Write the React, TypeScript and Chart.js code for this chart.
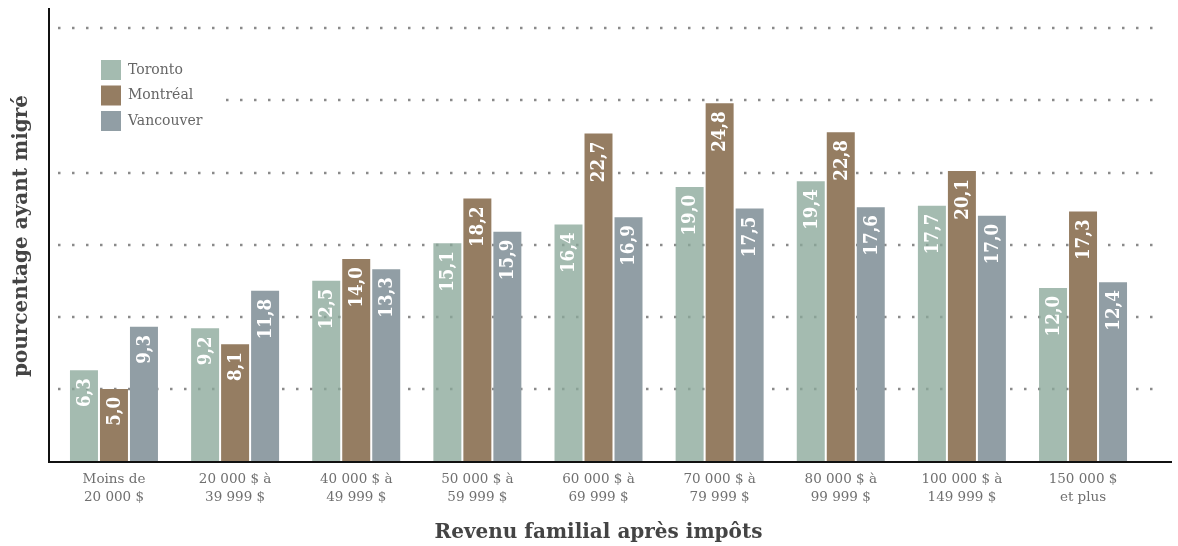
import React, { useEffect, useRef } from "react";
import { Chart, registerables } from "chart.js";

Chart.register(...registerables);

const categories: string[][] = [
  ["Moins de", "20 000 $"],
  ["20 000 $ à", "39 999 $"],
  ["40 000 $ à", "49 999 $"],
  ["50 000 $ à", "59 999 $"],
  ["60 000 $ à", "69 999 $"],
  ["70 000 $ à", "79 999 $"],
  ["80 000 $ à", "99 999 $"],
  ["100 000 $ à", "149 999 $"],
  ["150 000 $", "et plus"],
];
const seriesNames = ["Toronto", "Montréal", "Vancouver"];
const toronto = [6.3, 9.2, 12.5, 15.1, 16.4, 19.0, 19.4, 17.7, 12.0];
const montreal = [5.0, 8.1, 14.0, 18.2, 22.7, 24.8, 22.8, 20.1, 17.3];
const vancouver = [9.3, 11.8, 13.3, 15.9, 16.9, 17.5, 17.6, 17.0, 12.4];
const gridValues = [5, 10, 15, 20, 25, 30];
const yTitle = "pourcentage ayant migré";
const xTitle = "Revenu familial après impôts";

const barColors = ["rgba(138,168,154,0.78)", "#957d62", "#919ea5"];
const legendColors = ["#a4bbb0", "#957d62", "#919ea5"];
const SERIF = "'DejaVu Serif', serif";

export default function App() {
  const ref = useRef<HTMLCanvasElement | null>(null);

  useEffect(() => {
    const canvas = ref.current!;
    const gridPlugin = {
      id: "dottedGrid",
      beforeDatasetsDraw(chart: any) {
        const ctx = chart.ctx;
        const y = chart.scales.y;
        ctx.save();
        ctx.strokeStyle = "#8a8a8a";
        ctx.lineWidth = 2.5;
        ctx.setLineDash([2.5, 11.5]);
        gridValues.forEach((v) => {
          const py = Math.round(y.getPixelForValue(v));
          ctx.beginPath();
          ctx.moveTo(58, py);
          ctx.lineTo(1162, py);
          ctx.stroke();
        });
        ctx.restore();
      },
      afterDatasetsDraw(chart: any) {
        const ctx = chart.ctx;
        const area = chart.chartArea;
        ctx.save();
        ctx.strokeStyle = "#111";
        ctx.lineWidth = 2;
        ctx.beginPath();
        ctx.moveTo(49, 8);
        ctx.lineTo(49, area.bottom + 1);
        ctx.lineTo(1172, area.bottom + 1);
        ctx.stroke();
        ctx.restore();
        ctx.save();
        ctx.fillStyle = "#ffffff";
        ctx.font = "bold 18.5px 'DejaVu Serif Condensed', 'DejaVu Serif', serif";
        ctx.textAlign = "right";
        ctx.textBaseline = "middle";
        chart.data.datasets.forEach((ds: any, di: number) => {
          const meta = chart.getDatasetMeta(di);
          meta.data.forEach((bar: any, i: number) => {
            const txt = ds.data[i].toFixed(1).replace(".", ",");
            ctx.save();
            ctx.translate(bar.x, bar.y + 8);
            ctx.rotate(-Math.PI / 2);
            ctx.fillText(txt, 0, 1);
            ctx.restore();
          });
        });
        ctx.restore();
      },
      afterDraw(chart: any) {
        const ctx = chart.ctx;
        ctx.save();
        ctx.fillStyle = "#ffffff";
        ctx.fillRect(55, 50, 166, 90);
        ctx.font = "14px " + SERIF;
        ctx.textBaseline = "middle";
        ctx.textAlign = "left";
        seriesNames.forEach((n, i) => {
          const top = 60 + i * 25.5;
          ctx.fillStyle = legendColors[i];
          ctx.fillRect(101, top, 20, 20);
          ctx.fillStyle = "#666";
          ctx.fillText(n, 128, top + 10);
        });
        ctx.restore();
      },
    };

    const chart = new Chart(canvas, {
      type: "bar",
      data: {
        labels: categories,
        datasets: [toronto, montreal, vancouver].map((d, i) => ({
          label: seriesNames[i],
          data: d,
          backgroundColor: barColors[i],
          borderWidth: 0,
          categoryPercentage: 0.743,
          barPercentage: 0.933,
        })),
      },
      options: {
        animation: false,
        responsive: false,
        devicePixelRatio: 1,
        layout: { padding: { top: 11, right: 34.4, left: 0, bottom: 0 } },
        plugins: { legend: { display: false }, tooltip: { enabled: false } },
        scales: {
          x: {
            grid: { display: false, drawTicks: false },
            border: { display: false },
            ticks: {
              color: "#707070",
              font: { family: SERIF, size: 13.5, lineHeight: 1.35 },
              padding: 9,
              maxRotation: 0,
              autoSkip: false,
            },
            title: {
              display: true,
              text: xTitle,
              color: "#444",
              font: { family: SERIF, size: 20, weight: "bold", lineHeight: 1.2 },
              padding: { top: 0, bottom: 1 },
            },
            afterFit(scale: any) {
              scale.height = 85;
            },
          },
          y: {
            min: 0,
            max: 31.2,
            grid: { display: false, drawTicks: false },
            border: { display: false },
            ticks: { display: false, stepSize: 5 },
            title: {
              display: true,
              text: yTitle,
              color: "#444",
              font: { family: SERIF, size: 20, weight: "bold", lineHeight: 1.2 },
              padding: { top: 10, bottom: 0 },
            },
            afterFit(scale: any) {
              scale.width = 53.4;
            },
          },
        },
      },
      plugins: [gridPlugin],
    } as any);
    return () => chart.destroy();
  }, []);

  return (
    <div style={{ position: "fixed", left: 0, top: 0, width: 1178, height: 546, background: "#fff" }}>
      <canvas ref={ref} width={1178} height={546} style={{ display: "block" }} />
    </div>
  );
}
